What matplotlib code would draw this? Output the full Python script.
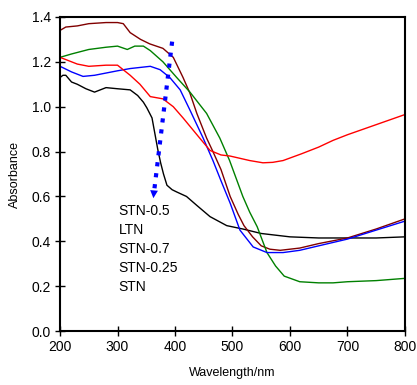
import matplotlib.pyplot as plt

plt.rcParams['font.family'] = ['Liberation Sans', 'DejaVu Sans']

# STN (black)
wl_stn = [200, 205, 210, 220, 230, 245, 260, 280, 300, 322, 335, 345, 351, 360, 365, 370, 375,
          380, 386, 395, 403, 420, 438, 461, 490, 518, 550, 600, 650, 700, 750, 800]
a_stn = [1.13, 1.14, 1.14, 1.11, 1.10, 1.08, 1.065, 1.085, 1.08, 1.075, 1.05, 1.02, 0.995, 0.95,
         0.88, 0.81, 0.75, 0.70, 0.65, 0.63, 0.62, 0.60, 0.56, 0.51, 0.47, 0.455, 0.435, 0.42,
         0.415, 0.415, 0.415, 0.42]

# STN-0.5 (maroon)
wl_stn05 = [200, 210, 230, 250, 280, 300, 310, 322, 340, 356, 379, 397, 414, 426, 438, 455, 466,
            480, 496, 510, 520, 535, 550, 565, 583, 600, 617, 650, 700, 750, 800]
a_stn05 = [1.34, 1.355, 1.36, 1.37, 1.375, 1.375, 1.37, 1.33, 1.30, 1.28, 1.26, 1.22, 1.13, 1.06,
           0.97, 0.86, 0.80, 0.72, 0.60, 0.52, 0.47, 0.42, 0.38, 0.365, 0.36, 0.365, 0.37, 0.39,
           0.415, 0.455, 0.50]

# LTN (green)
wl_ltn = [200, 220, 250, 280, 300, 317, 330, 345, 357, 379, 403, 426, 455, 478, 495, 518, 530,
          543, 560, 575, 590, 617, 650, 675, 700, 750, 800]
a_ltn = [1.22, 1.235, 1.255, 1.265, 1.27, 1.255, 1.27, 1.27, 1.25, 1.20, 1.13, 1.065, 0.97, 0.86,
         0.76, 0.60, 0.53, 0.465, 0.35, 0.29, 0.245, 0.22, 0.215, 0.215, 0.22, 0.225, 0.235]

# STN-0.7 (blue)
wl_stn07 = [200, 220, 240, 260, 280, 300, 322, 357, 374, 391, 409, 426, 449, 466, 480, 496, 513,
            536, 560, 588, 617, 650, 700, 750, 800]
a_stn07 = [1.18, 1.155, 1.135, 1.14, 1.15, 1.16, 1.17, 1.18, 1.165, 1.13, 1.075, 0.985, 0.86,
           0.76, 0.67, 0.57, 0.45, 0.375, 0.35, 0.35, 0.36, 0.38, 0.41, 0.45, 0.49]

# STN-0.25 (red)
wl_stn025 = [200, 210, 230, 250, 280, 300, 322, 339, 357, 379, 397, 414, 443, 461, 480, 496,
             530, 553, 570, 588, 620, 650, 675, 700, 750, 800]
a_stn025 = [1.22, 1.21, 1.19, 1.18, 1.185, 1.185, 1.14, 1.10, 1.045, 1.035, 1.0, 0.95, 0.86,
            0.805, 0.785, 0.78, 0.76, 0.75, 0.752, 0.76, 0.79, 0.82, 0.85, 0.875, 0.92, 0.965]

labels = ['STN-0.5', 'LTN', 'STN-0.7', 'STN-0.25', 'STN']
label_y = [0.535, 0.45, 0.366, 0.28, 0.196]

fig = plt.figure(figsize=(4.17, 3.85), dpi=100)
ax = fig.add_axes([0.144, 0.140, 0.827, 0.816])

ax.plot(wl_stn, a_stn, color='black', lw=1)
ax.plot(wl_stn05, a_stn05, color='#800000', lw=1)
ax.plot(wl_ltn, a_ltn, color='#008000', lw=1)
ax.plot(wl_stn07, a_stn07, color='#0000ff', lw=1)
ax.plot(wl_stn025, a_stn025, color='#ff0000', lw=1)

# dotted arrow
ax.plot([395, 364], [1.29, 0.63], ':', color='blue', lw=3)
ax.annotate('', xy=(362, 0.58), xytext=(364, 0.64),
            arrowprops=dict(arrowstyle='-|>', color='blue', lw=0, mutation_scale=14))

for lab, y in zip(labels, label_y):
    ax.text(302, y, lab, fontsize=10, va='center', ha='left')

ax.set_xlim(200, 800)
ax.set_ylim(0, 1.4)
ax.set_xticks(range(200, 801, 100))
ax.set_yticks([0, 0.2, 0.4, 0.6, 0.8, 1.0, 1.2, 1.4])
ax.set_yticklabels(['0.0', '0.2', '0.4', '0.6', '0.8', '1.0', '1.2', '1.4'])
ax.tick_params(direction='inout', length=7, width=1, labelsize=10, pad=3)
for s in ax.spines.values():
    s.set_linewidth(1.5)
ax.set_xlabel('Wavelength/nm', fontsize=9, labelpad=9)
ax.set_ylabel('Absorbance', fontsize=9, labelpad=8)

fig.savefig('out.png', dpi=100)
